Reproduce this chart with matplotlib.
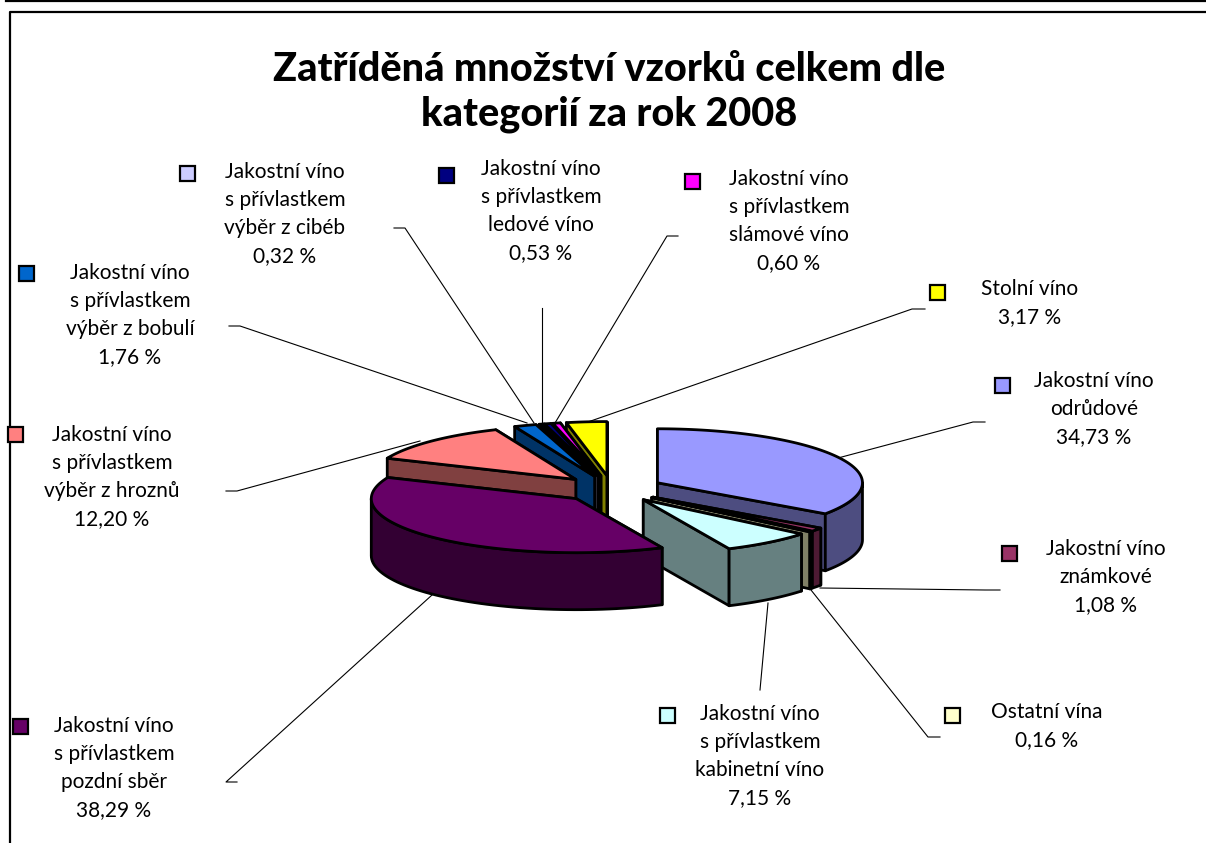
import numpy as np
import matplotlib
matplotlib.use("Agg")
import matplotlib.pyplot as plt
from matplotlib.patches import Polygon, Rectangle

plt.rcParams["font.family"] = ["Lato", "DejaVu Sans"]

# --- data, clockwise from 12 o'clock ---
names = [
    "Jakostní víno\nodrůdové",
    "Jakostní víno\nznámkové",
    "Ostatní vína",
    "Jakostní víno\ns přívlastkem\nkabinetní víno",
    "Jakostní víno\ns přívlastkem\npozdní sběr",
    "Jakostní víno\ns přívlastkem\nvýběr z hroznů",
    "Jakostní víno\ns přívlastkem\nvýběr z bobulí",
    "Jakostní víno\ns přívlastkem\nvýběr z cibéb",
    "Jakostní víno\ns přívlastkem\nledové víno",
    "Jakostní víno\ns přívlastkem\nslámové víno",
    "Stolní víno",
]
values = [34.73, 1.08, 0.16, 7.15, 38.29, 12.20, 1.76, 0.32, 0.53, 0.60, 3.17]
top_colors = ["#9999FF", "#993366", "#FFFFCC", "#CCFFFF", "#660066", "#FF8080",
              "#0066CC", "#CCCCFF", "#000080", "#FF00FF", "#FFFF00"]
side_colors = ["#4D4D80", "#4D1A33", "#808066", "#668080", "#330033", "#804040",
               "#003366", "#666680", "#000040", "#800080", "#808000"]

# --- layout in pixels ---
W, H = 1206, 843
cx, cy = 612, 489
rx, ry = 205, 54
depth = 57
explode = 0.25
draw_order = [0, 1, 2, 3, 10, 9, 8, 7, 6, 5, 4]
text_pos = [(1094, 409), (1106, 577), (1047, 726), (760, 756), (114, 768), (112, 477),
            (130, 315), (285, 214), (541, 211), (789, 221), (1030, 303)]
key_pos = [(1002, 385), (1009, 553), (952, 715), (667, 715), (20, 726), (15, 434),
           (26, 273), (187, 173), (446, 175), (692, 181), (937, 292)]
leaders = [
    [(985, 422), (973, 422), (838, 458)],
    [(1000, 590), (985, 590), (820, 588)],
    [(940, 737), (928, 737), (811, 590)],
    [(760, 690), (768, 603)],
    [(237, 782), (226, 782), (432, 595)],
    [(226, 491), (237, 491), (420, 441)],
    [(229, 326), (240, 326), (527, 423)],
    [(394, 228), (405, 228), (534, 423)],
    [(542, 308), (542, 423)],
    [(678, 236), (667, 236), (555, 423)],
    [(925, 309), (912, 309), (585, 423)],
]

fig = plt.figure(figsize=(W / 100, H / 100), dpi=100)
ax = fig.add_axes([0, 0, 1, 1])
ax.set_xlim(0, W)
ax.set_ylim(H, 0)
ax.axis("off")

# chart frame
ax.plot([6, W], [0.5, 0.5], color="black", lw=1.6)
ax.plot([10, 10, W], [H, 11.5, 11.5], color="black", lw=1.6)

ax.text(609, 92, "Zatříděná množství vzorků celkem dle\nkategorií za rok 2008",
        ha="center", va="center", fontsize=28.5, fontweight="black", linespacing=1.28)

vals = np.array(values)
edges = np.concatenate([[0], np.cumsum(vals) / vals.sum() * 360])


def point(x0, y0, deg):
    t = np.radians(deg)
    return x0 + rx * np.sin(t), y0 - ry * np.cos(t)


for leader in leaders:
    xs, ys = zip(*leader)
    ax.plot(xs, ys, color="black", lw=0.8, zorder=1)

z = 2
for i in draw_order:
    a, b = edges[i], edges[i + 1]
    mid = np.radians((a + b) / 2)
    ax0 = cx + explode * rx * np.sin(mid)
    ay0 = cy - explode * ry * np.cos(mid)
    style = dict(edgecolor="black", linewidth=2, joinstyle="round")

    # cut faces first, the further one at the bottom of the stack
    for deg in sorted((a, b), key=lambda d: point(ax0, ay0, d)[1]):
        px, py = point(ax0, ay0, deg)
        face = [(ax0, ay0), (px, py), (px, py + depth), (ax0, ay0 + depth)]
        ax.add_patch(Polygon(face, facecolor=side_colors[i], zorder=z, **style))
        z += 1

    # outer wall, only the part facing the viewer
    lo, hi = max(a, 90), min(b, 270)
    if lo < hi:
        arc = np.linspace(lo, hi, 60)
        px, py = point(ax0, ay0, arc)
        wall = np.column_stack([np.r_[px, px[::-1]], np.r_[py, py[::-1] + depth]])
        ax.add_patch(Polygon(wall, facecolor=side_colors[i], zorder=z, **style))
        z += 1

    arc = np.linspace(a, b, 80)
    px, py = point(ax0, ay0, arc)
    top = np.column_stack([np.r_[ax0, px], np.r_[ay0, py]])
    ax.add_patch(Polygon(top, facecolor=top_colors[i], zorder=z, **style))
    z += 1

# labels and legend keys
for i, name in enumerate(names):
    label = name + "\n" + f"{values[i]:.2f}".replace(".", ",") + " %"
    ax.text(text_pos[i][0], text_pos[i][1], label, ha="center", va="center",
            fontsize=15, linespacing=1.52, zorder=z)
    kx, ky = key_pos[i]
    ax.add_patch(Rectangle((kx - 7.5, ky - 7.5), 15, 15, facecolor=top_colors[i],
                           edgecolor="black", linewidth=1.6, zorder=z))

fig.savefig("out.png", dpi=100)
